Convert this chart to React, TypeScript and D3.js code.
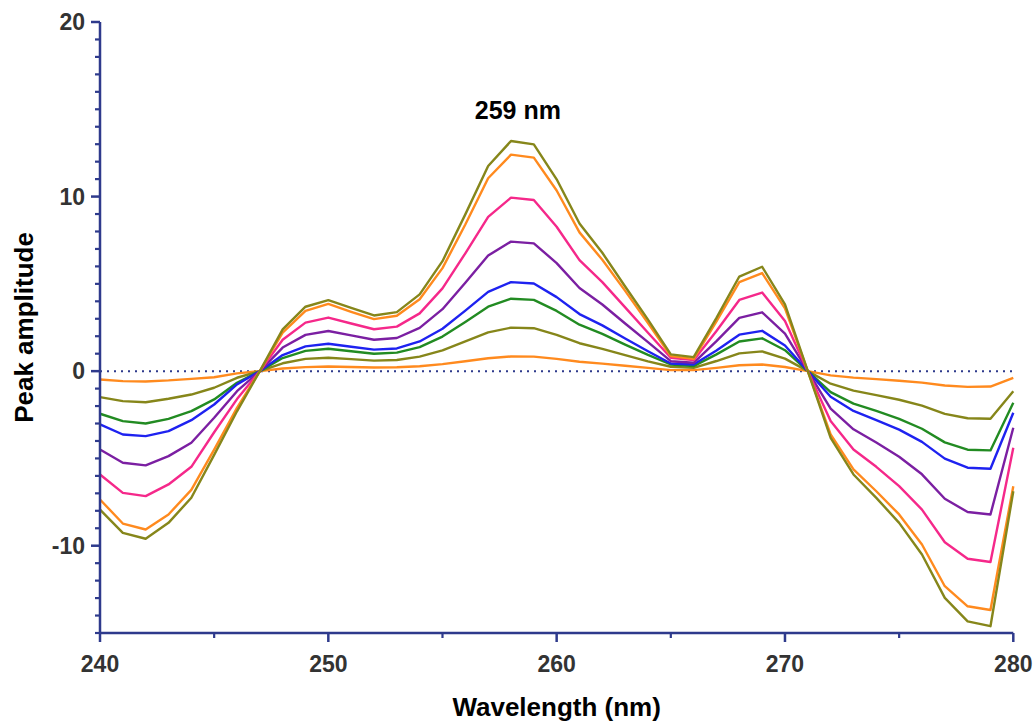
import React from "react";
import * as d3 from "d3";

// Wavelength grid (nm), one sample per nanometre
const wavelengths: number[] = d3.range(240, 281);

// Peak amplitude series, lowest concentration first
const series1: number[] = [-0.48, -0.57, -0.59, -0.53, -0.44, -0.35, -0.13, 0, 0.15, 0.23, 0.27, 0.24, 0.21, 0.22, 0.28, 0.4, 0.57, 0.74, 0.84, 0.83, 0.7, 0.54, 0.43, 0.31, 0.19, 0.06, 0.06, 0.19, 0.34, 0.38, 0.24, 0, -0.24, -0.37, -0.46, -0.55, -0.66, -0.82, -0.9, -0.88, -0.38];
const series2: number[] = [-1.49, -1.72, -1.78, -1.58, -1.34, -0.95, -0.38, 0, 0.45, 0.7, 0.77, 0.69, 0.6, 0.64, 0.83, 1.19, 1.7, 2.22, 2.49, 2.46, 2.08, 1.6, 1.28, 0.92, 0.56, 0.25, 0.19, 0.58, 1.02, 1.13, 0.72, 0, -0.72, -1.12, -1.37, -1.64, -1.98, -2.45, -2.7, -2.73, -1.15];
const series3: number[] = [-2.44, -2.86, -3.0, -2.73, -2.29, -1.62, -0.67, 0, 0.75, 1.16, 1.28, 1.14, 1.0, 1.06, 1.38, 1.98, 2.82, 3.69, 4.15, 4.08, 3.45, 2.66, 2.13, 1.52, 0.93, 0.38, 0.29, 0.96, 1.7, 1.88, 1.2, 0, -1.2, -1.86, -2.28, -2.73, -3.3, -4.08, -4.5, -4.54, -1.81];
const series4: number[] = [-3.05, -3.63, -3.72, -3.44, -2.81, -1.91, -0.76, 0, 0.92, 1.42, 1.57, 1.4, 1.23, 1.3, 1.7, 2.43, 3.47, 4.54, 5.1, 5.02, 4.24, 3.27, 2.62, 1.87, 1.14, 0.44, 0.38, 1.18, 2.09, 2.31, 1.47, 0, -1.47, -2.28, -2.8, -3.35, -4.05, -5.01, -5.53, -5.59, -2.38];
const series5: number[] = [-4.49, -5.25, -5.4, -4.87, -4.1, -2.67, -1.15, 0, 1.35, 2.08, 2.3, 2.05, 1.8, 1.9, 2.48, 3.55, 5.06, 6.62, 7.42, 7.32, 6.19, 4.76, 3.82, 2.73, 1.66, 0.57, 0.48, 1.72, 3.05, 3.37, 2.15, 0, -2.15, -3.33, -4.09, -4.9, -5.91, -7.31, -8.07, -8.21, -3.24];
const series6: number[] = [-5.92, -6.97, -7.16, -6.49, -5.48, -3.5, -1.6, 0, 1.8, 2.78, 3.07, 2.73, 2.4, 2.55, 3.31, 4.74, 6.75, 8.84, 9.94, 9.8, 8.27, 6.36, 5.1, 3.65, 2.2, 0.77, 0.63, 2.3, 4.08, 4.5, 2.87, 0, -2.86, -4.49, -5.48, -6.59, -7.93, -9.8, -10.75, -10.93, -4.39];
const series7: number[] = [-7.35, -8.73, -9.07, -8.21, -6.8, -4.5, -2.1, 0, 2.2, 3.45, 3.85, 3.4, 2.98, 3.17, 4.12, 5.9, 8.4, 11.05, 12.4, 12.23, 10.35, 7.95, 6.38, 4.6, 2.75, 0.86, 0.7, 2.85, 5.1, 5.62, 3.6, 0, -3.63, -5.63, -6.88, -8.21, -9.93, -12.32, -13.47, -13.68, -6.59];
const series8: number[] = [-7.93, -9.26, -9.6, -8.69, -7.25, -4.8, -2.3, 0, 2.39, 3.69, 4.07, 3.63, 3.19, 3.38, 4.4, 6.3, 8.98, 11.75, 13.18, 12.99, 10.99, 8.46, 6.78, 4.85, 2.95, 0.96, 0.8, 3.05, 5.42, 5.98, 3.82, 0, -3.82, -5.92, -7.26, -8.69, -10.5, -12.99, -14.33, -14.61, -6.88];

const seriesList: number[][] = [series1, series2, series3, series4, series5, series6, series7, series8];
const seriesColors: string[] = ["#FF8A1E", "#86861A", "#228B22", "#1E22F0", "#7B1FA2", "#F5288A", "#FF8A1E", "#86861A"];

const xMajorTicks: number[] = [240, 250, 260, 270, 280];
const xMinorTicks: number[] = [245, 255, 265, 275];
const yMajorTicks: number[] = [20, 10, 0, -10];
const yMinorTicks: number[] = d3.range(-15, 21).filter((v) => v % 10 !== 0);

const peakLabel = "259 nm";
const peakLabelPos = { x: 258.3, y: 14.45 };

const axisColor = "#2E3A8C";
const tickTextColor = "#333333";

export default function App() {
  const width = 1035;
  const height = 723;
  const x = d3.scaleLinear().domain([240, 280]).range([100, 1013.3]);
  const y = d3.scaleLinear().domain([-15, 20]).range([633, 22]);

  const line = d3
    .line<number>()
    .x((_, i) => x(wavelengths[i]))
    .y((d) => y(d));

  const font = "'Liberation Sans', Arial, Helvetica, sans-serif";
  const x0 = x(240);
  const y0 = y(-15);

  return (
    <div>
      <style>{"body{margin:0}"}</style>
      <svg width={width} height={height} style={{ display: "block", background: "#fff" }} fontFamily={font}>
        {/* zero reference line */}
        <line
          x1={x0}
          x2={x(280)}
          y1={y(0)}
          y2={y(0)}
          stroke={axisColor}
          strokeWidth={2}
          strokeDasharray="2 5"
        />

        {/* spectra */}
        {seriesList.map((s, i) => (
          <path
            key={i}
            d={line(s) || ""}
            fill="none"
            stroke={seriesColors[i]}
            strokeWidth={2.4}
            strokeLinejoin="round"
          />
        ))}

        {/* y axis */}
        <line x1={x0} x2={x0} y1={y(20)} y2={y0} stroke={axisColor} strokeWidth={2.5} />
        {yMinorTicks.map((v) => (
          <line key={"ym" + v} x1={x0 - 5} x2={x0} y1={y(v)} y2={y(v)} stroke={axisColor} strokeWidth={2.2} />
        ))}
        {yMajorTicks.map((v) => (
          <g key={"yM" + v}>
            <line x1={x0 - 9} x2={x0} y1={y(v)} y2={y(v)} stroke={axisColor} strokeWidth={2.5} />
            <text
              x={85}
              y={y(v)}
              dy="0.36em"
              textAnchor="end"
              fontSize={23}
              fontWeight="bold"
              fill={tickTextColor}
            >
              {v}
            </text>
          </g>
        ))}

        {/* x axis */}
        <line x1={x0} x2={x(280)} y1={y0} y2={y0} stroke={axisColor} strokeWidth={2.5} />
        {xMinorTicks.map((v) => (
          <line key={"xm" + v} x1={x(v)} x2={x(v)} y1={y0} y2={y0 + 5} stroke={axisColor} strokeWidth={2.2} />
        ))}
        {xMajorTicks.map((v) => (
          <g key={"xM" + v}>
            <line x1={x(v)} x2={x(v)} y1={y0} y2={y0 + 9} stroke={axisColor} strokeWidth={2.5} />
            <text
              x={x(v)}
              y={672}
              textAnchor="middle"
              fontSize={23}
              fontWeight="bold"
              fill={tickTextColor}
            >
              {v}
            </text>
          </g>
        ))}

        {/* axis titles */}
        <text
          x={(x0 + x(280)) / 2}
          y={716}
          textAnchor="middle"
          fontSize={26}
          fontWeight="bold"
          fill="#000"
        >
          Wavelength (nm)
        </text>
        <text
          transform={`translate(33, ${(y(20) + y0) / 2}) rotate(-90)`}
          textAnchor="middle"
          fontSize={26}
          fontWeight="bold"
          fill="#000"
        >
          Peak amplitude
        </text>

        {/* peak annotation */}
        <text
          x={x(peakLabelPos.x)}
          y={y(peakLabelPos.y)}
          textAnchor="middle"
          fontSize={25}
          fontWeight="bold"
          fill="#000"
        >
          {peakLabel}
        </text>
      </svg>
    </div>
  );
}
